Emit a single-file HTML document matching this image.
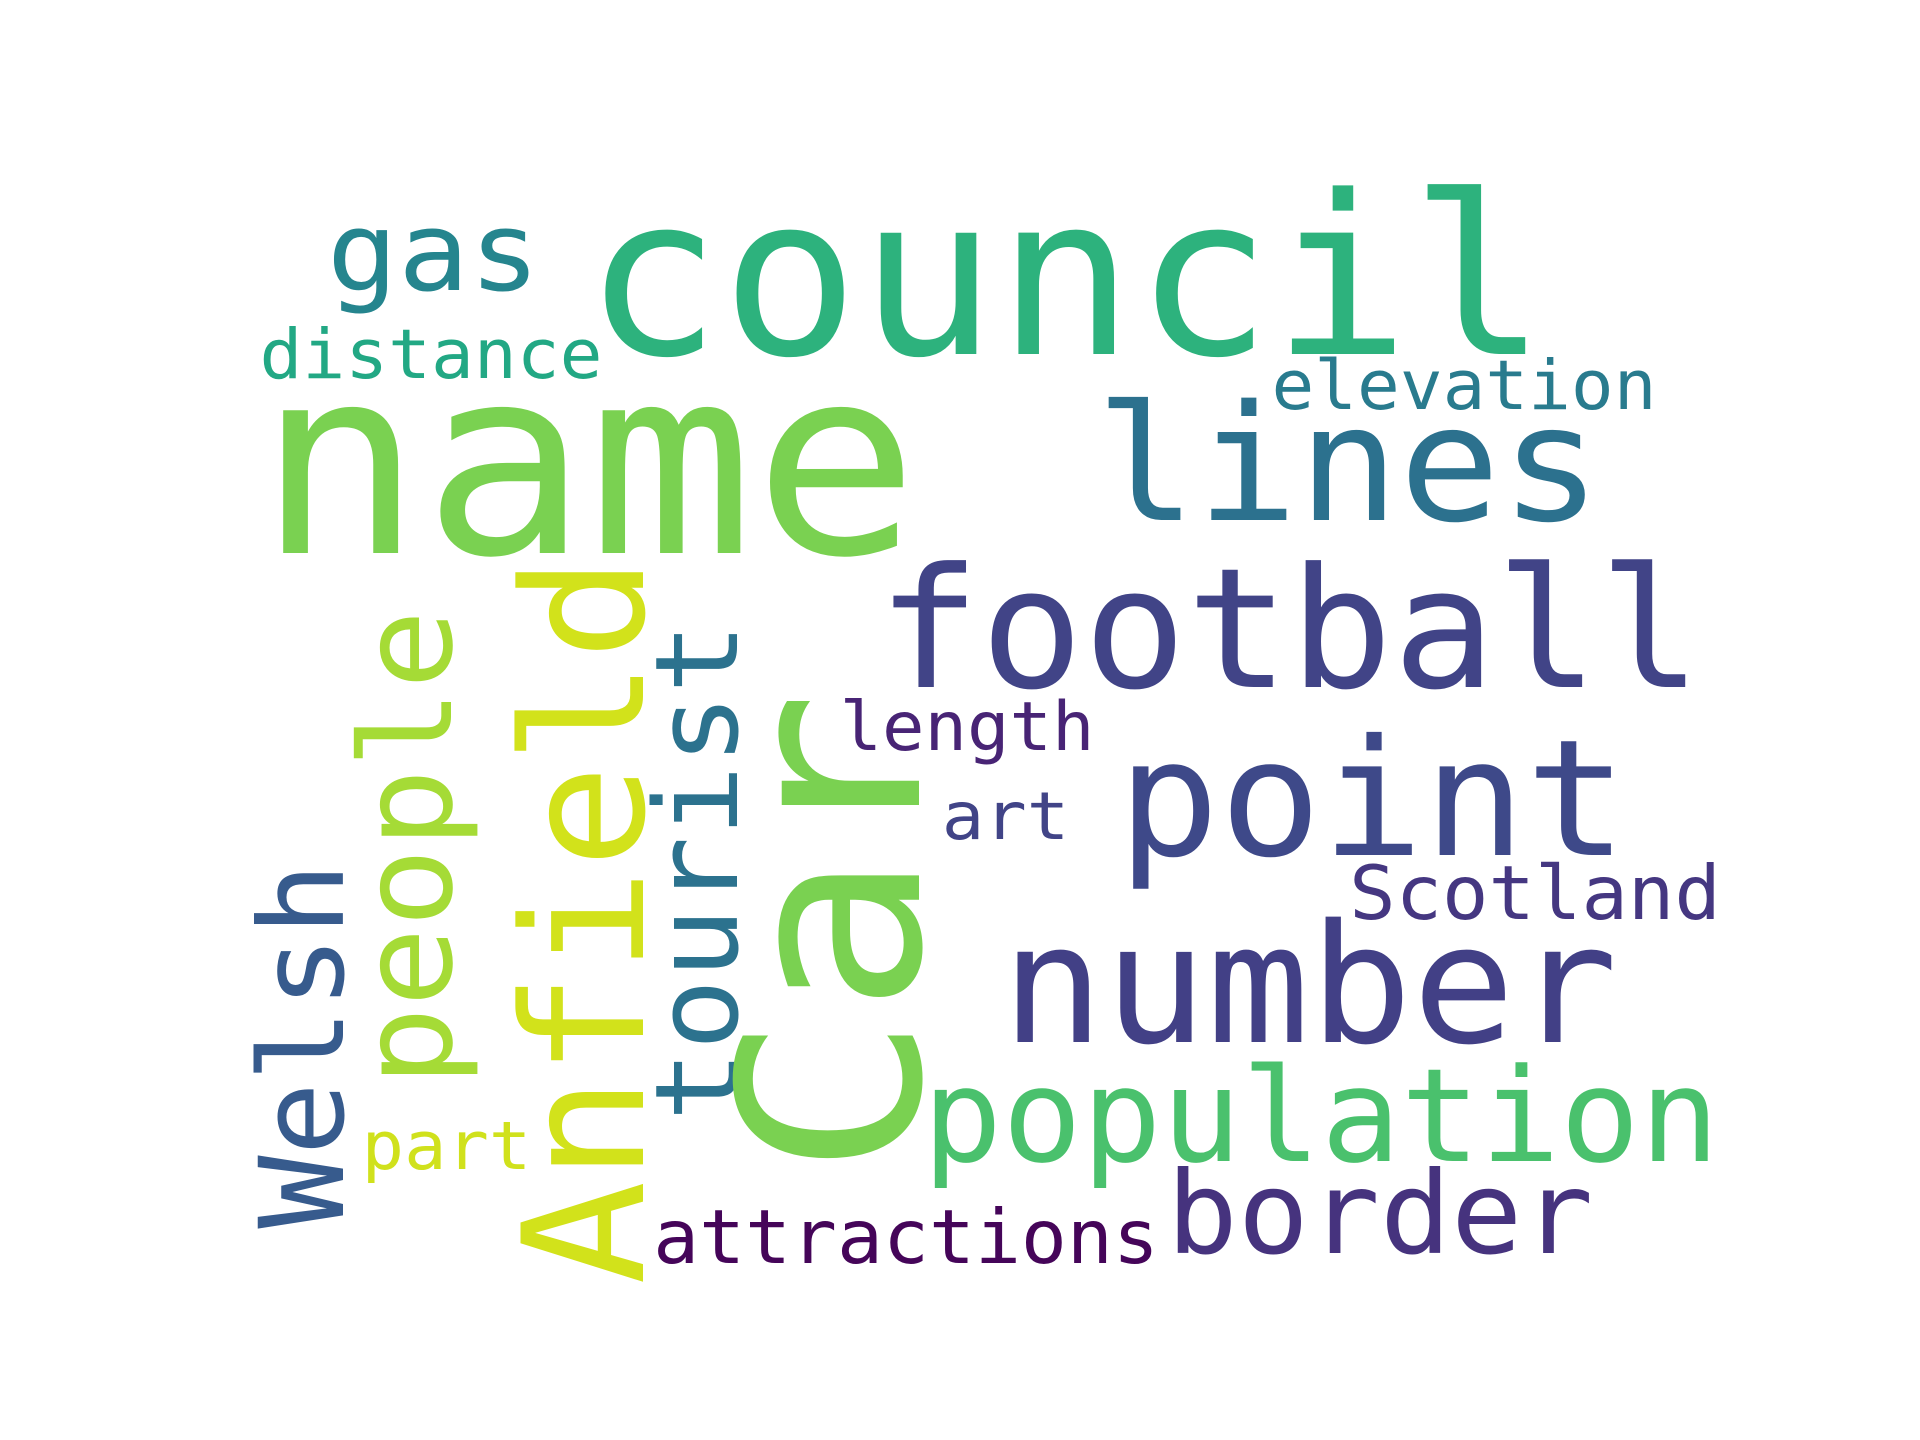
<!DOCTYPE html>
<html>
<head>
<meta charset="utf-8">
<style>
  html,body{margin:0;padding:0;background:#fff;}
  svg{display:block;}
  text{font-family:"DejaVu Sans Mono","Liberation Mono",monospace;}
</style>
</head>
<body>
<svg id="cloud" width="1920" height="1440" viewBox="0 0 1920 1440" xmlns="http://www.w3.org/2000/svg">
  <rect width="1920" height="1440" fill="#ffffff"/>
</svg>
<script>
// words and their relative font sizes (frequency weight)
const words = ["council","name","gas","distance","lines","elevation","football","point","number","Scotland","length","art","population","border","attractions","part","Anfield","people","tourist","Welsh","Car"];
const sizes = [222,261,110,69,161,69,167,162,165,75,68,66,130,114,75,67,168,127,115,117,251];
const colors = ["#2db27d","#7ad151","#25858e","#22a884","#2c718e","#297b8e","#414487","#3e4989","#424086","#453781","#482475","#414487","#4ac16d","#46337e","#450559","#d0e11c","#d2e21b","#a5db36","#2c728e","#375b8d","#7ad151"];
// layout (ink start point on baseline, ink extent, orientation)
const layoutX = [598,274,334,264,1106,1276,888,1128,1012,1354,844,946,931,1174,658,366,643,451,737,343,919];
const layoutY = [354,553,290,378,520,409,687,855,1042,919,750,839,1161,1253,1263,1169,1274,1078,1114,1221,1160];
const extent  = [935,628,199,334,485,376,803,489,595,362,246,119,780,412,496,161,707,460,484,351,453];
const vertical= [0,0,0,0,0,0,0,0,0,0,0,0,0,0,0,0,1,1,1,1,1];

const svg = document.getElementById('cloud');
const NS = 'http://www.w3.org/2000/svg';
for (let i = 0; i < words.length; i++) {
  const pad = 0.065 * sizes[i];
  let x = layoutX[i], y = layoutY[i];
  if (vertical[i]) y += pad; else x -= pad;
  const t = document.createElementNS(NS, 'text');
  t.setAttribute('x', x);
  t.setAttribute('y', y);
  t.setAttribute('font-size', sizes[i]);
  t.setAttribute('fill', colors[i]);
  t.setAttribute('textLength', extent[i] + 2 * pad);
  t.setAttribute('lengthAdjust', 'spacingAndGlyphs');
  if (vertical[i]) t.setAttribute('transform', 'rotate(-90 ' + x + ' ' + y + ')');
  t.textContent = words[i];
  
  
  svg.appendChild(t);
}
</script>
</body>
</html>
